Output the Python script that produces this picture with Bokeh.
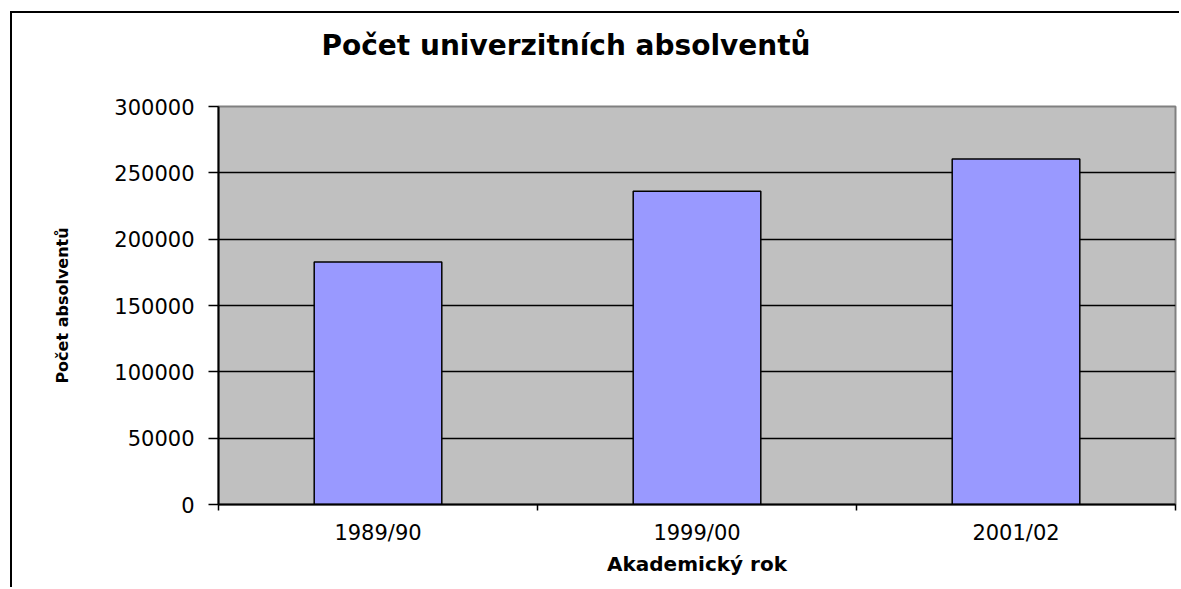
from bokeh.plotting import figure
from bokeh.models import Range1d, FixedTicker, PrintfTickFormatter, Title
from bokeh.embed import file_html
from bokeh.resources import INLINE

categories = ["1989/90", "1999/00", "2001/02"]
graduates = [182700, 236200, 260400]
y_ticks = [0, 50000, 100000, 150000, 200000, 250000, 300000]

x_pos = [i + 0.5 for i in range(len(categories))]

p = figure(width=1169, height=576, output_backend="svg", toolbar_location=None,
           x_range=Range1d(0, len(categories)), y_range=Range1d(y_ticks[0], y_ticks[-1]),
           min_border_left=206, min_border_right=6, min_border_top=93, min_border_bottom=85,
           title=None)

p.styles = {"border-left": "2px solid black", "border-top": "2px solid black",
            "margin-left": "10px", "margin-top": "11px"}

p.background_fill_color = "#C0C0C0"
p.border_fill_color = "white"
p.outline_line_color = "#808080"
p.outline_line_width = 2

p.vbar(x=x_pos, top=graduates, width=0.4, bottom=0,
       fill_color="#9999FF", line_color="black", line_width=1.5)

# blank spacer between title and plot area (nearest the frame)
spacer = Title(text=".", text_font="DejaVu Sans", text_font_size="10px",
               text_color="white", standoff=35)
p.add_layout(spacer, "above")

# title
t = Title(text="Počet univerzitních absolventů", align="left", offset=103,
          text_font="DejaVu Sans", text_font_size="28px", text_font_style="bold",
          text_color="black", standoff=0)
p.add_layout(t, "above")

# x axis
xa = p.xaxis[0]
xa.ticker = FixedTicker(ticks=x_pos, minor_ticks=[float(i) for i in range(len(categories) + 1)])
xa.major_label_overrides = {x: c for x, c in zip(x_pos, categories)}
xa.major_tick_out = 0
xa.major_tick_in = 0
xa.minor_tick_out = 6
xa.minor_tick_in = 0
xa.minor_tick_line_color = "black"
xa.minor_tick_line_width = 1.5
xa.axis_line_color = "black"
xa.axis_line_width = 2
xa.major_label_text_font = "DejaVu Sans"
xa.major_label_text_font_size = "21px"
xa.major_label_text_color = "black"
xa.major_label_standoff = 10
xa.axis_label = "Akademický rok"
xa.axis_label_text_font = "DejaVu Sans"
xa.axis_label_text_font_size = "20px"
xa.axis_label_text_font_style = "bold"
xa.axis_label_text_color = "black"
xa.axis_label_standoff = 4

# y axis
ya = p.yaxis[0]
ya.ticker = FixedTicker(ticks=y_ticks, minor_ticks=[])
ya.formatter = PrintfTickFormatter(format="%d")
ya.major_tick_out = 10
ya.major_tick_in = 0
ya.major_tick_line_color = "black"
ya.major_tick_line_width = 1.5
ya.minor_tick_out = 0
ya.minor_tick_in = 0
ya.axis_line_color = "black"
ya.axis_line_width = 2
ya.major_label_text_font = "DejaVu Sans"
ya.major_label_text_font_size = "21px"
ya.major_label_text_color = "black"
ya.major_label_standoff = 14
ya.axis_label = "Počet absolventů"
ya.axis_label_text_font = "DejaVu Sans"
ya.axis_label_text_font_size = "16px"
ya.axis_label_text_font_style = "bold"
ya.axis_label_text_color = "black"
ya.axis_label_standoff = 39

p.xgrid.visible = False
p.ygrid.ticker = FixedTicker(ticks=y_ticks)
p.ygrid.grid_line_color = "black"
p.ygrid.grid_line_width = 1.5

open("out.html", "w").write(file_html(p, INLINE))
